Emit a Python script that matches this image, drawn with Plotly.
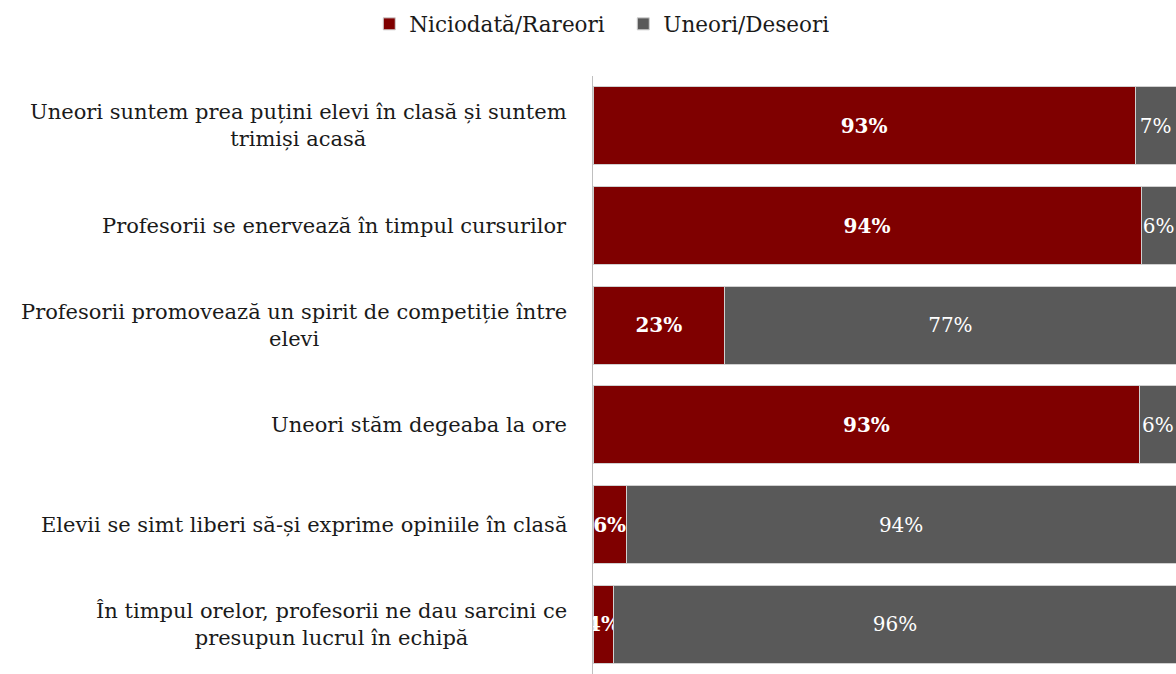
import plotly.graph_objects as go

# Categories (top to bottom)
categories = [
    "Uneori suntem prea puțini elevi în clasă și suntem<br>trimiși acasă",
    "Profesorii se enervează în timpul cursurilor",
    "Profesorii promovează un spirit de competiție între<br>elevi",
    "Uneori stăm degeaba la ore",
    "Elevii se simt liberi să-și exprime opiniile în clasă",
    "În timpul orelor, profesorii ne dau sarcini ce<br>presupun lucrul în echipă",
]
keys = ["c1", "c2", "c3", "c4", "c5", "c6"]

rarely = [93.0, 94.0, 22.6, 93.8, 5.7, 3.6]
rarely_labels = ["93%", "94%", "23%", "93%", "6%", "4%"]
often = [7.0, 6.0, 77.4, 6.2, 94.3, 96.4]
often_labels = ["7%", "6%", "77%", "6%", "94%", "96%"]

RED = "#7f0000"
GREY = "#595959"
FONT = "DejaVu Serif"

fig = go.Figure()
fig.add_trace(go.Bar(
    y=keys, x=rarely, orientation="h", name="Niciodată/Rareori",
    marker=dict(color=RED, line=dict(color="#d0d0d0", width=1)),
    text=rarely_labels, textposition="inside", insidetextanchor="middle",
    constraintext="none", textangle=0,
    texttemplate="<b>%{text}</b>",
    insidetextfont=dict(color="white", size=20, family=FONT),
    width=0.78,
))
fig.add_trace(go.Bar(
    y=keys, x=often, orientation="h", name="Uneori/Deseori",
    marker=dict(color=GREY, line=dict(color="#d0d0d0", width=1)),
    text=often_labels, textposition="inside", insidetextanchor="middle",
    constraintext="none", textangle=0,
    insidetextfont=dict(color="white", size=20, family=FONT),
    width=0.78,
))

# category labels, centred multi-line text to the left of the axis
for k, lab in zip(keys, categories):
    fig.add_annotation(
        x=0, xref="paper", y=k, yref="y", text=lab, showarrow=False,
        xanchor="right", align="center", xshift=-24,
        font=dict(size=21, family=FONT, color="#1a1a1a"),
    )

fig.update_layout(
    barmode="stack",
    width=1176, height=674,
    margin=dict(l=593, r=0, t=76, b=0),
    plot_bgcolor="white", paper_bgcolor="white",
    font=dict(family=FONT, size=20, color="#1a1a1a"),
    showlegend=True,
    legend=dict(orientation="h", xref="container", x=0.53, xanchor="center",
                yref="container", y=0.995, yanchor="top", traceorder="normal",
                font=dict(size=21.5, family=FONT), itemwidth=30,
                entrywidth=209, entrywidthmode="pixels"),
    xaxis=dict(range=[0, 100], showticklabels=False, showgrid=False,
               zeroline=False, fixedrange=True),
    yaxis=dict(categoryorder="array", categoryarray=keys, range=[5.5, -0.5],
               showticklabels=False, showgrid=False, zeroline=False,
               showline=True, linecolor="#bfbfbf", linewidth=1, ticks="",
               fixedrange=True),
)

fig.write_html("out.html", config={"displayModeBar": False},
               post_script="document.body.style.margin='0';")
